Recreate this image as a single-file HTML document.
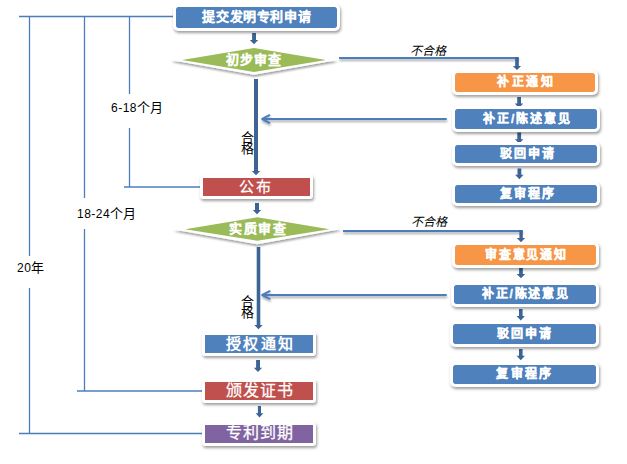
<!DOCTYPE html>
<html lang="zh-CN">
<head>
<meta charset="utf-8">
<style>
html,body{margin:0;padding:0;background:#fff;}
body{width:627px;height:464px;position:relative;overflow:hidden;font-family:"Liberation Sans",sans-serif;}
svg{position:absolute;left:0;top:0;}
.b{position:absolute;box-sizing:border-box;border:3px solid #fff;color:#fff;font-weight:700;text-align:center;white-space:nowrap;box-shadow:1px 2px 3px rgba(0,0,0,.38);background-clip:padding-box;}
.b span,.dt span{position:absolute;left:0;right:0;top:0;bottom:0;display:flex;align-items:center;justify-content:center;box-sizing:border-box;}
.dt{position:absolute;color:#fff;font-weight:700;-webkit-text-stroke:0.15px #fff;white-space:nowrap;}
.bl{background-color:#4f81bd;}
.rd{background-color:#c0504d;}
.pu{background-color:#8064a2;}
.or{background-color:#f79646;}
.r{border-radius:5px;}
.sq{border-radius:3px;}
.t{position:absolute;white-space:nowrap;color:#000;}
.lab{font-size:12px;letter-spacing:0.5px;line-height:14px;}
.cj{font-size:13px;letter-spacing:0.6px;margin-left:-0.5px;}
.gap{position:absolute;background:#fff;}
.ng{font-size:12px;font-style:italic;line-height:14px;}
.hg{font-size:13px;line-height:11px;width:13px;text-align:center;}
</style>
</head>
<body>
<svg width="627" height="464" viewBox="0 0 627 464">
<defs>
<filter id="sh" x="-20%" y="-50%" width="140%" height="200%">
<feDropShadow dx="0.5" dy="2" stdDeviation="1.2" flood-color="#000" flood-opacity="0.38"/>
</filter>
<filter id="lsh" x="-5%" y="-200%" width="110%" height="500%">
<feDropShadow dx="0.5" dy="2" stdDeviation="0.9" flood-color="#000" flood-opacity="0.35"/>
</filter>
</defs>
<!-- left timeline lines -->
<g stroke="#4a7ebb" stroke-width="1.3" fill="none">
<path d="M19 16.5H180"/>
<path d="M29.5 16.5V433.5"/>
<path d="M84.5 16.5V391"/>
<path d="M129.5 16.5V187"/>
<path d="M124 187H205"/>
<path d="M77 391H208"/>
<path d="M19 433.5H208"/>
</g>
<!-- right connectors -->
<g stroke="#4a7ebb" stroke-width="2" fill="none" stroke-linejoin="round" filter="url(#lsh)">
<path d="M339 58H518.5"/>
<path d="M343 231H522.5"/>
<path d="M446 119H263M269.4 115.2L262.2 119L269.4 122.8" stroke-linecap="round"/>
<path d="M446 295H263M269.6 291.2L262.2 295L269.6 298.8" stroke-linecap="round"/>
</g>
<!-- diamonds -->
<g filter="url(#sh)">
<polygon points="170.8,60 254,45 337.5,60 254,74.8" fill="#fff"/>
<polygon points="173.6,229.5 257.3,214 341.3,229 257.3,244.2" fill="#fff"/>
</g>
<polygon points="182,60 254,48 326,60 254,72" fill="#9bbb59"/>
<polygon points="185,229.2 257.3,217.2 329.6,229.2 257.3,240.7" fill="#9bbb59"/>
<!-- dark arrows -->
<g fill="#3c6494">
<path d="M252.1 33H256V40H258.2L254 44.2L249.8 40H252.1Z"/>
<path d="M254 79H258V171H260.2L256 175.2L251.8 171H254Z"/>
<path d="M255 203H259V210H261.2L257 214.2L252.8 210H255Z"/>
<path d="M256.7 247H260.3V325H262.7L258.5 329.2L254.3 325H256.7Z"/>
<path d="M256.1 360H260V367.8H262.1L258 372L253.9 367.8H256.1Z"/>
<path d="M257.9 406H261V413.2H263.4L259.5 417.4L255.6 413.2H257.9Z"/>
<!-- right group 1 -->
<path d="M515.2 57.3H518.8V65.9H521.1L517 70L512.8 65.9H515.2Z"/>
<path d="M517.2 97H521V103.5H523.3L519 108L514.7 103.5H517.2Z"/>
<path d="M517.3 132.6H521.1V139.2H523.4L519.2 143.6L514.9 139.2H517.3Z"/>
<path d="M517.5 168.4H521.3V174.8H523.6L519.4 179.2L515.1 174.8H517.5Z"/>
<!-- right group 2 -->
<path d="M519.4 230.3H522.8V238.1H525.1L521 242.2L516.8 238.1H519.4Z"/>
<path d="M519.1 267.2H522.8V274H525.2L521 278.2L516.6 274H519.1Z"/>
<path d="M519 309H522.6V316H524.9L520.8 320.4L516.6 316H519Z"/>
<path d="M519 349H522.6V355.8H524.9L520.8 360.2L516.6 355.8H519Z"/>
</g>
</svg>

<!-- boxes -->
<div class="b bl r" style="left:173px;top:4px;width:167px;height:27px;font-size:13px;letter-spacing:0.6px;"><span style="font-weight:700;padding-left:0.6px;-webkit-text-stroke:0.15px #fff;transform:translate(0px,-2px)">提交发明专利申请</span></div>
<div class="b rd sq" style="left:200px;top:175px;width:113px;height:24px;font-size:15px;letter-spacing:2px;"><span style="font-weight:400;padding-left:2px;-webkit-text-stroke:0.25px #fff;transform:translate(-1.5px,-2px)">公布</span></div>
<div class="b bl sq" style="left:202px;top:332px;width:114px;height:24px;font-size:15px;letter-spacing:2.1px;"><span style="font-weight:700;padding-left:2.1px;-webkit-text-stroke:0px #fff;transform:translate(0.5px,-2px)">授权通知</span></div>
<div class="b rd sq" style="left:202px;top:378.5px;width:114px;height:24.5px;font-size:16px;letter-spacing:1px;"><span style="font-weight:400;padding-left:1px;-webkit-text-stroke:0.25px #fff;transform:translate(0px,-2px)">颁发证书</span></div>
<div class="b pu sq" style="left:202px;top:422px;width:114px;height:24px;font-size:16px;letter-spacing:1px;"><span style="font-weight:400;padding-left:1px;-webkit-text-stroke:0.25px #fff;transform:translate(0px,-3px)">专利到期</span></div>
<div class="b or r" style="left:452px;top:70px;width:146px;height:25px;font-size:12px;letter-spacing:2.8px;"><span style="font-weight:700;padding-left:2.8px;-webkit-text-stroke:0.35px #fff;transform:translate(0px,-2px)">补正通知</span></div>
<div class="b bl r" style="left:452px;top:106px;width:148px;height:26px;font-size:12px;letter-spacing:1.8px;"><span style="font-weight:700;padding-left:1.8px;-webkit-text-stroke:0.35px #fff;transform:translate(0.5px,-2px)">补正/陈述意见</span></div>
<div class="b bl r" style="left:452px;top:142px;width:148px;height:24px;font-size:12px;letter-spacing:2.2px;"><span style="font-weight:700;padding-left:2.2px;-webkit-text-stroke:0.35px #fff;transform:translate(1px,-2px)">驳回申请</span></div>
<div class="b bl r" style="left:452px;top:182px;width:148px;height:24px;font-size:12px;letter-spacing:2.3px;"><span style="font-weight:700;padding-left:2.3px;-webkit-text-stroke:0.35px #fff;transform:translate(1px,-2px)">复审程序</span></div>
<div class="b or r" style="left:452px;top:242px;width:147px;height:25.6px;font-size:12px;letter-spacing:1.9px;"><span style="font-weight:700;padding-left:1.9px;-webkit-text-stroke:0.35px #fff;transform:translate(0px,-1.5px)">审查意见通知</span></div>
<div class="b bl r" style="left:451px;top:281.5px;width:148px;height:25.5px;font-size:12px;letter-spacing:1.8px;"><span style="font-weight:700;padding-left:1.8px;-webkit-text-stroke:0.35px #fff;transform:translate(0px,-2px)">补正/陈述意见</span></div>
<div class="b bl r" style="left:450px;top:321px;width:149px;height:26px;font-size:12px;letter-spacing:2.2px;"><span style="font-weight:700;padding-left:2.2px;-webkit-text-stroke:0.35px #fff;transform:translate(-0.5px,-2px)">驳回申请</span></div>
<div class="b bl r" style="left:449.5px;top:362px;width:149.5px;height:24.5px;font-size:12px;letter-spacing:2.2px;"><span style="font-weight:700;padding-left:2.2px;-webkit-text-stroke:0.35px #fff;transform:translate(-0.5px,-2px)">复审程序</span></div>
<div class="dt" style="left:182px;top:48px;width:144px;height:24px;font-size:13px;letter-spacing:1.2px;"><span style="padding-left:1.2px;transform:translate(-0.5px,-2px)">初步审查</span></div>
<div class="dt" style="left:185px;top:217px;width:145px;height:24px;font-size:13px;letter-spacing:1.5px;"><span style="padding-left:1.5px;transform:translate(0px,-2px)">实质审查</span></div>

<!-- labels -->
<div class="gap" style="left:105px;top:93.5px;width:60px;height:34px;"></div>
<div class="gap" style="left:70px;top:197.5px;width:70px;height:31.5px;"></div>
<div class="gap" style="left:12px;top:256px;width:40px;height:32px;"></div>
<div class="t lab" style="left:111px;top:101px;">6-18<span class="cj">个月</span></div>
<div class="t lab" style="left:77px;top:206.5px;">18-24<span class="cj">个月</span></div>
<div class="t lab" style="left:17px;top:261px;">20<span class="cj">年</span></div>
<div class="t ng" style="left:409.5px;top:43.5px;">不合格</div>
<div class="t ng" style="left:411px;top:215px;">不合格</div>
<div class="t hg" style="left:240.5px;top:131.5px;">合<br>格</div>
<div class="t hg" style="left:241px;top:295.5px;">合<br>格</div>
</body>
</html>
